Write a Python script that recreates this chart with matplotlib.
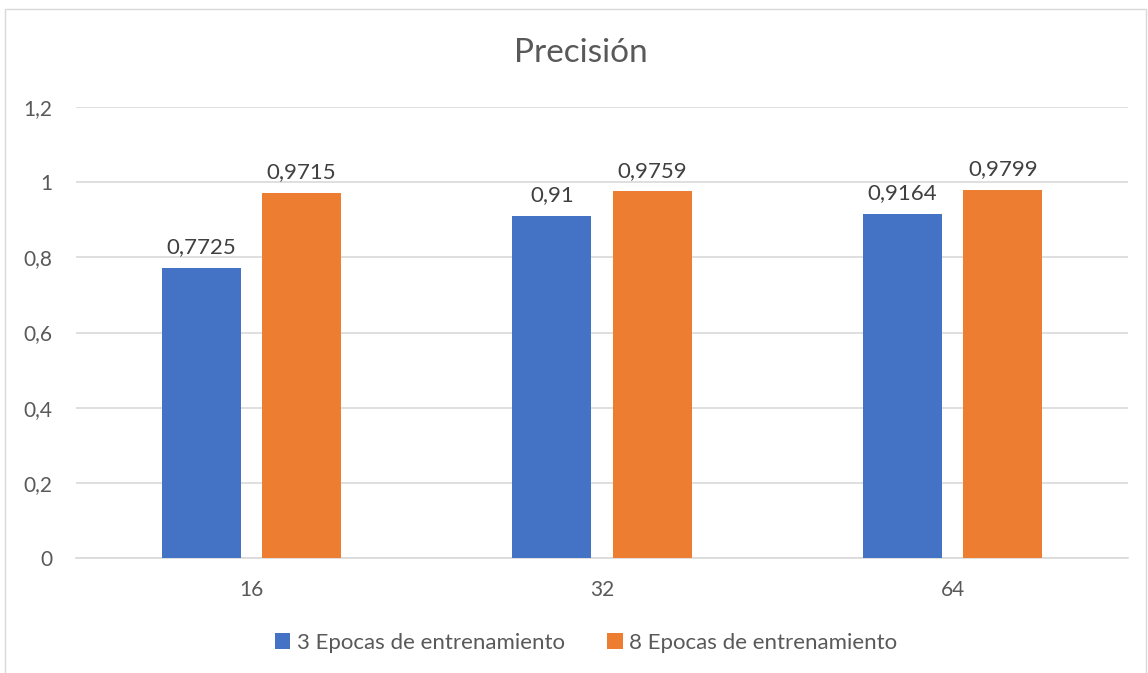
import numpy as np
import matplotlib.pyplot as plt
from matplotlib.patches import Rectangle

categories = ['16', '32', '64']
series_names = ['3 Epocas de entrenamiento', '8 Epocas de entrenamiento']
epocas3 = [0.7725, 0.91, 0.9164]
epocas8 = [0.9715, 0.9759, 0.9799]
yticks = [0, 0.2, 0.4, 0.6, 0.8, 1, 1.2]
ytick_labels = ['0', '0,2', '0,4', '0,6', '0,8', '1', '1,2']

plt.rcParams['font.family'] = ['Lato', 'DejaVu Sans']
txt = '#595959'
colors = ['#4472C4', '#ED7D31']

fig = plt.figure(figsize=(11.48, 6.73), dpi=100)
# outer chart border
fig.patches.append(Rectangle((5 / 1148, -0.01), 1141 / 1148, 1 - 9 / 673 + 0.01,
                             transform=fig.transFigure, fill=False,
                             edgecolor='#D9D9D9', linewidth=1))

ax = fig.add_axes([76 / 1148, 1 - 558 / 673, 1052 / 1148, 451 / 673])
x = np.arange(len(categories))
w = 0.226
off = 0.143
for vals, c, name, d in [(epocas3, colors[0], series_names[0], -off),
                         (epocas8, colors[1], series_names[1], off)]:
    bars = ax.bar(x + d, vals, w, color=c, label=name, zorder=3)
    for b, v in zip(bars, vals):
        ax.text(b.get_x() + b.get_width() / 2, v + 0.028,
                ('%g' % v).replace('.', ','), ha='center', va='bottom',
                fontsize=16, color='#404040')

ax.set_xlim(-0.5, 2.5)
ax.set_ylim(0, 1.2)
ax.set_yticks(yticks)
ax.set_yticklabels(ytick_labels)
ax.set_xticks(x)
ax.set_xticklabels(categories)
ax.tick_params(axis='both', length=0, labelsize=15, labelcolor=txt)
ax.tick_params(axis='y', pad=17)
ax.tick_params(axis='x', pad=16)
ax.grid(axis='y', color='#D9D9D9', linewidth=1.2, zorder=0)
for s in ['top', 'right', 'left']:
    ax.spines[s].set_visible(False)
ax.spines['bottom'].set_color('#D9D9D9')
ax.spines['bottom'].set_linewidth(1.2)

fig.text(581 / 1148, 1 - 53 / 673, 'Precisión', ha='center', va='center',
         fontsize=24, color=txt)

handles, labels = ax.get_legend_handles_labels()
fig.legend(handles, labels, loc='center', bbox_to_anchor=(586 / 1148, 1 - 643 / 673),
           ncol=2, frameon=False, fontsize=16, labelcolor=txt,
           handlelength=0.7, handleheight=0.7, handletextpad=0.3,
           columnspacing=1.9)

fig.savefig('out.png', dpi=100)
